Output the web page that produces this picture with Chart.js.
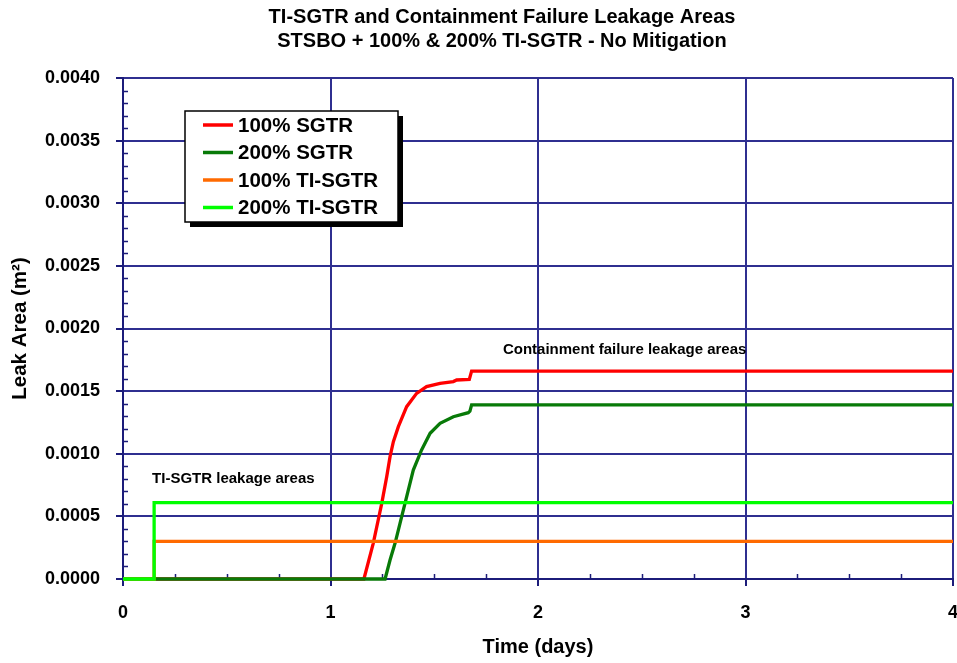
<!DOCTYPE html>
<html>
<head>
<meta charset="utf-8">
<script src="https://cdn.jsdelivr.net/npm/chart.js@4.4.1/dist/chart.umd.min.js"></script>
<style>
  html, body { margin: 0; padding: 0; background: #fff; }
  #wrap { width: 957px; height: 663px; position: relative; }
</style>
</head>
<body>
<div id="wrap"><canvas id="myChart"></canvas></div>
<script>
// leak area (m2) against time (days)
const titleLines = [
    'TI-SGTR and Containment Failure Leakage Areas',
    'STSBO + 100% & 200% TI-SGTR - No Mitigation'
];
const seriesNames = ['100% SGTR', '200% SGTR', '100% TI-SGTR', '200% TI-SGTR'];
const seriesColors = ['#FF0000', '#087A08', '#FF6A00', '#00FF00'];

const sgtr100Time = [0, 1.161, 1.206, 1.247, 1.271, 1.287, 1.303, 1.327, 1.367, 1.415, 1.463, 1.528, 1.592, 1.608, 1.669, 1.680, 4];
const sgtr100Leak = [0, 0, 0.000285, 0.000604, 0.000817, 0.000977, 0.001096, 0.001216, 0.001376, 0.001482, 0.001536, 0.001562, 0.001576, 0.001589, 0.001594, 0.00166, 0.00166];

const sgtr200Time = [0, 1.263, 1.287, 1.311, 1.335, 1.359, 1.399, 1.439, 1.480, 1.528, 1.592, 1.664, 1.672, 1.680, 4];
const sgtr200Leak = [0, 0, 0.000152, 0.000285, 0.000444, 0.000604, 0.00087, 0.00103, 0.001163, 0.001243, 0.001296, 0.001328, 0.00134, 0.00139, 0.00139];

const tiSgtr100Time = [0, 0.15, 0.15, 4];
const tiSgtr100Leak = [0, 0, 0.0003, 0.0003];

const tiSgtr200Time = [0, 0.15, 0.15, 4];
const tiSgtr200Leak = [0, 0, 0.00061, 0.00061];

const annotations = [
    { text: 'Containment failure leakage areas', x: 1.831, y: 0.001796 },
    { text: 'TI-SGTR leakage areas', x: 0.14, y: 0.000766 }
];

const fontFamily = "'Liberation Sans', Arial, Helvetica, sans-serif";
const gridColor = '#2F2F90';
const axisColor = '#1C1C7A';

function toPoints(xs, ys) {
    return xs.map((x, i) => ({ x: x, y: ys[i] }));
}

const seriesData = [
    toPoints(sgtr100Time, sgtr100Leak),
    toPoints(sgtr200Time, sgtr200Leak),
    toPoints(tiSgtr100Time, tiSgtr100Leak),
    toPoints(tiSgtr200Time, tiSgtr200Leak)
];
// bright green on top, red at the bottom
const drawOrder = [4, 3, 2, 1];

const chartTitle = {
    id: 'chartTitle',
    afterDraw(chart) {
        const ctx = chart.ctx;
        ctx.save();
        ctx.fillStyle = '#000';
        ctx.font = 'bold 20px ' + fontFamily;
        ctx.textAlign = 'center';
        ctx.textBaseline = 'alphabetic';
        ctx.fillText(titleLines[0], 502, 23);
        ctx.fillText(titleLines[1], 502, 47);
        ctx.restore();
    }
};

const minorTicks = {
    id: 'minorTicks',
    beforeDatasetsDraw(chart) {
        const ctx = chart.ctx;
        const xs = chart.scales.x;
        const ys = chart.scales.y;
        const area = chart.chartArea;
        ctx.save();
        ctx.strokeStyle = axisColor;
        ctx.lineWidth = 1.5;
        ctx.beginPath();
        for (let i = 1; i < 40; i++) {
            if (i % 5 === 0) continue;
            const py = Math.round(ys.getPixelForValue(i * 0.0001)) + 0.5;
            ctx.moveTo(area.left, py);
            ctx.lineTo(area.left + 5, py);
        }
        for (let i = 1; i < 16; i++) {
            if (i % 4 === 0) continue;
            const px = Math.round(xs.getPixelForValue(i * 0.25)) + 0.5;
            ctx.moveTo(px, area.bottom);
            ctx.lineTo(px, area.bottom - 5);
        }
        ctx.stroke();
        ctx.restore();
    }
};

const notes = {
    id: 'notes',
    afterDatasetsDraw(chart) {
        const ctx = chart.ctx;
        ctx.save();
        ctx.fillStyle = '#000';
        ctx.font = 'bold 15px ' + fontFamily;
        ctx.textAlign = 'left';
        ctx.textBaseline = 'alphabetic';
        annotations.forEach(a => {
            ctx.fillText(a.text, chart.scales.x.getPixelForValue(a.x), chart.scales.y.getPixelForValue(a.y));
        });
        ctx.restore();
    }
};

const boxLegend = {
    id: 'boxLegend',
    afterDraw(chart) {
        const ctx = chart.ctx;
        const left = 185, top = 111, w = 213, h = 111;
        ctx.save();
        ctx.fillStyle = '#000';
        ctx.fillRect(left + 5, top + 5, w, h);
        ctx.fillStyle = '#fff';
        ctx.fillRect(left, top, w, h);
        ctx.strokeStyle = '#000';
        ctx.lineWidth = 1.5;
        ctx.strokeRect(left, top, w, h);
        ctx.font = 'bold 20.5px ' + fontFamily;
        ctx.textAlign = 'left';
        ctx.textBaseline = 'middle';
        chart.data.datasets.forEach((ds, i) => {
            const y = top + 14 + i * 27.5;
            ctx.strokeStyle = ds.borderColor;
            ctx.lineWidth = 3.5;
            ctx.beginPath();
            ctx.moveTo(203, y);
            ctx.lineTo(233, y);
            ctx.stroke();
            ctx.fillStyle = '#000';
            ctx.fillText(ds.label, 238, y + 1);
        });
        ctx.restore();
    }
};

let leakChart = new Chart(document.getElementById('myChart').getContext('2d'), {
    type: 'line',
    data: {
        datasets: seriesNames.map((name, i) => ({
            label: name,
            data: seriesData[i],
            borderColor: seriesColors[i],
            backgroundColor: seriesColors[i],
            borderWidth: 3.3,
            pointRadius: 0,
            tension: 0,
            fill: false,
            clip: 6,
            order: drawOrder[i]
        }))
    },
    options: {
        responsive: true,
        maintainAspectRatio: false,
        animation: false,
        layout: {
            padding: { top: 78, left: 0, right: 4, bottom: 0 }
        },
        plugins: {
            legend: { display: false },
            title: { display: false },
            tooltip: { enabled: false }
        },
        scales: {
            x: {
                type: 'linear',
                min: 0,
                max: 4,
                afterFit: s => {
                    s.height = 84;
                    s.paddingLeft = 0;
                    s.paddingRight = 0;
                },
                ticks: {
                    stepSize: 1,
                    padding: 16,
                    color: '#000',
                    font: { family: fontFamily, size: 18, weight: 'bold' },
                    maxRotation: 0
                },
                grid: { color: gridColor, lineWidth: 2, tickLength: 7, tickColor: axisColor },
                border: { color: axisColor, width: 2 },
                title: {
                    display: true,
                    text: 'Time (days)',
                    color: '#000',
                    font: { family: fontFamily, size: 20, weight: 'bold' },
                    padding: { top: 0, bottom: 4 }
                }
            },
            y: {
                type: 'linear',
                min: 0,
                max: 0.004,
                afterFit: s => {
                    s.width = 123;
                    s.paddingTop = 0;
                    s.paddingBottom = 0;
                },
                ticks: {
                    stepSize: 0.0005,
                    padding: 16,
                    color: '#000',
                    font: { family: fontFamily, size: 18, weight: 'bold' },
                    callback: v => v.toFixed(4)
                },
                grid: { color: gridColor, lineWidth: 2, tickLength: 7, tickColor: axisColor },
                border: { color: axisColor, width: 2 },
                title: {
                    display: true,
                    text: 'Leak Area (m²)',
                    color: '#000',
                    font: { family: fontFamily, size: 20.5, weight: 'bold' },
                    padding: { top: 8, bottom: 0 }
                }
            }
        }
    },
    plugins: [chartTitle, minorTicks, notes, boxLegend]
});
</script>
</body>
</html>
